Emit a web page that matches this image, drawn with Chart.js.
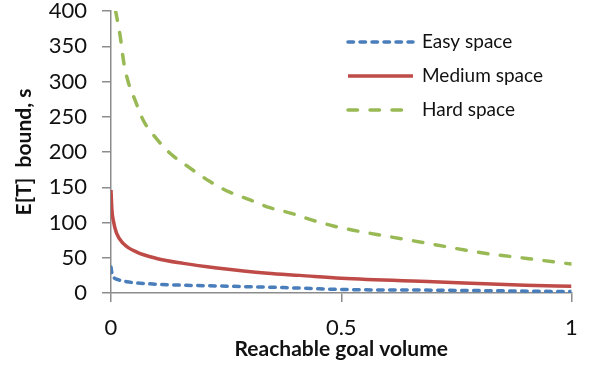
<!DOCTYPE html>
<html>
<head>
<meta charset="utf-8">
<script src="https://cdn.jsdelivr.net/npm/chart.js@4"></script>
<style>
  html, body { margin: 0; padding: 0; background: #fff; }
  #wrap { width: 591px; height: 368px; }
</style>
</head>
<body>
<div id="wrap"><canvas id="chart" width="591" height="368"></canvas></div>
<script>
// values
const seriesNames = ['Easy space', 'Medium space', 'Hard space'];

const easyX = [0, 0.002, 0.005, 0.015, 0.034, 0.085, 0.157, 0.23, 0.41, 0.5, 0.7, 1];
const easyY = [37, 28, 23, 19, 16, 13, 11, 10, 7, 5, 4, 2];

const mediumX = [0, 0.002, 0.005, 0.012, 0.027, 0.056, 0.099, 0.157, 0.23, 0.34, 0.41, 0.5, 0.7, 0.9, 1];
const mediumY = [146, 118, 103, 85, 70, 58, 49, 42, 35.5, 28, 25, 21, 16, 11, 9.5];

const hardX = [0.01, 0.02, 0.028, 0.038, 0.052, 0.07, 0.096, 0.132, 0.157, 0.215, 0.258, 0.302, 0.345, 0.392, 0.439, 0.483, 0.526, 0.577, 0.7, 0.795, 0.903, 1];
const hardY = [400, 364, 326, 298, 274, 245, 221, 196, 184, 158, 143, 132, 121, 113, 103, 95, 89, 83, 69, 58, 49, 41];

const xTicks = [0, 0.5, 1];
const yMax = 400;
const yStep = 50;

const toPoints = (xs, ys) => xs.map((x, i) => ({ x: x, y: ys[i] }));

const axisColor = '#8c8c8c';
const textColor = '#111';
const fontFamily = 'Lato, "Open Sans", sans-serif';

// legend drawn inside the plot, top right, like the original
const insideLegend = {
    id: 'insideLegend',
    afterDraw(chart) {
        const ctx = chart.ctx;
        const rows = [42, 76, 110];
        ctx.save();
        chart.data.datasets.forEach((ds, i) => {
            const y = rows[i];
            ctx.beginPath();
            ctx.strokeStyle = ds.borderColor;
            ctx.lineWidth = ds.borderWidth;
            ctx.lineCap = ds.borderCapStyle || 'butt';
            ctx.setLineDash(ds.borderDash || []);
            ctx.moveTo(348, y);
            ctx.lineTo(413, y);
            ctx.stroke();
            ctx.setLineDash([]);
            ctx.fillStyle = textColor;
            ctx.font = '19px ' + fontFamily;
            ctx.textBaseline = 'middle';
            ctx.textAlign = 'left';
            ctx.fillText(ds.label, 422, y);
        });
        ctx.restore();
    }
};

const chart = new Chart(document.getElementById('chart'), {
    type: 'line',
    data: {
        datasets: [
            {
                label: seriesNames[0],
                data: toPoints(easyX, easyY),
                borderColor: '#4a7ebb',
                borderWidth: 3.5,
                borderDash: [5.5, 6.5],
                borderCapStyle: 'round',
                pointRadius: 0,
                cubicInterpolationMode: 'monotone'
            },
            {
                label: seriesNames[1],
                data: toPoints(mediumX, mediumY),
                borderColor: '#be4b48',
                borderWidth: 3.5,
                pointRadius: 0,
                cubicInterpolationMode: 'monotone'
            },
            {
                label: seriesNames[2],
                data: toPoints(hardX, hardY),
                borderColor: '#98b954',
                borderWidth: 3.5,
                borderDash: [9.5, 12.5],
                borderCapStyle: 'round',
                pointRadius: 0,
                cubicInterpolationMode: 'monotone'
            }
        ]
    },
    options: {
        responsive: false,
        animation: false,
        layout: { padding: { top: 11, right: 19.5, left: 0, bottom: 0 } },
        plugins: {
            legend: { display: false },
            tooltip: { enabled: false }
        },
        scales: {
            x: {
                type: 'linear',
                min: 0,
                max: 1,
                afterBuildTicks: (scale) => { scale.ticks = xTicks.map(v => ({ value: v })); },
                afterFit: (scale) => {
                    scale.height = 75;
                    scale.paddingLeft = 0;
                    scale.paddingRight = 0;
                },
                border: { display: true, color: axisColor, width: 1.5 },
                grid: { drawOnChartArea: false, drawTicks: true, tickLength: 9, color: axisColor, lineWidth: 1.5 },
                ticks: {
                    color: textColor,
                    font: { family: fontFamily, size: 22 },
                    padding: 13,
                    maxRotation: 0,
                    callback: (value) => String(value)
                },
                title: {
                    display: true,
                    text: 'Reachable goal volume',
                    color: textColor,
                    font: { family: fontFamily, size: 21, weight: 'bold' },
                    padding: { top: 0, bottom: 6 }
                }
            },
            y: {
                min: 0,
                max: yMax,
                afterFit: (scale) => {
                    scale.width = 111;
                    scale.paddingTop = 0;
                    scale.paddingBottom = 0;
                },
                border: { display: true, color: axisColor, width: 1.5 },
                grid: { drawOnChartArea: false, drawTicks: true, tickLength: 9, color: axisColor, lineWidth: 1.5 },
                ticks: { stepSize: yStep, color: textColor, font: { family: fontFamily, size: 22 }, padding: 15 },
                title: {
                    display: true,
                    text: 'E[T]  bound, s',
                    color: textColor,
                    font: { family: fontFamily, size: 21, weight: 'bold' },
                    padding: { top: 12, bottom: 0 }
                }
            }
        }
    },
    plugins: [insideLegend]
});
</script>
</body>
</html>
